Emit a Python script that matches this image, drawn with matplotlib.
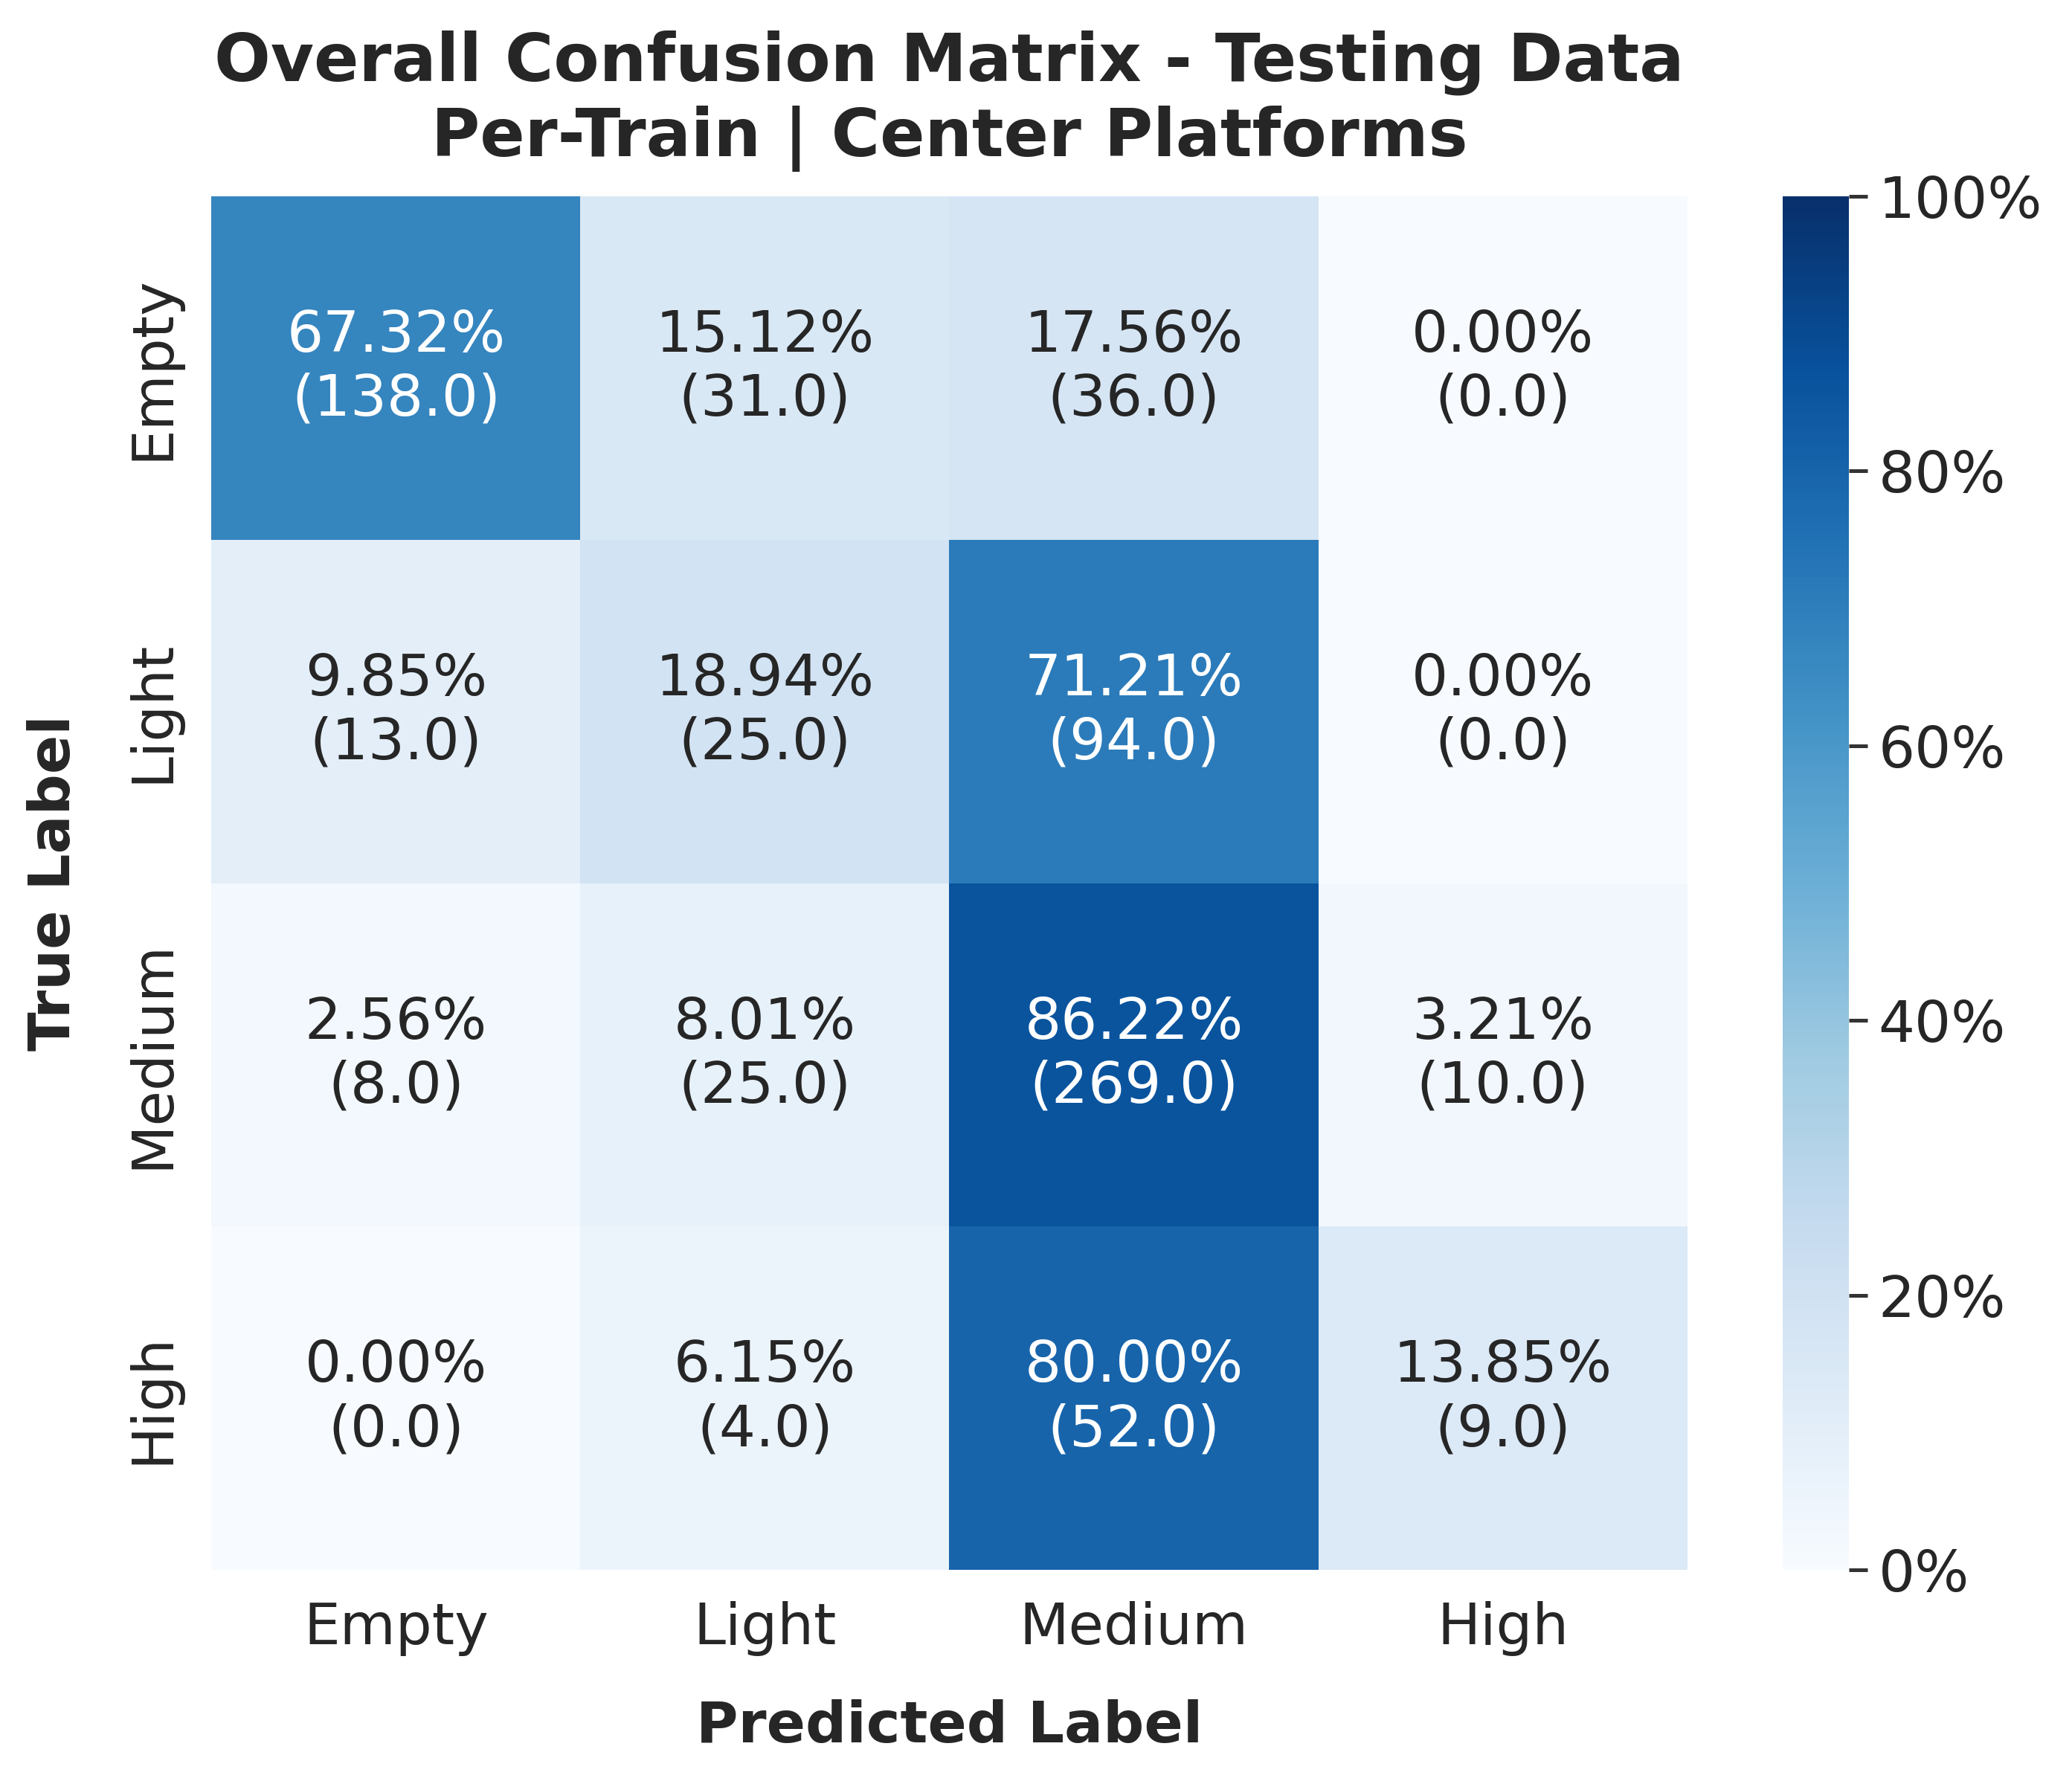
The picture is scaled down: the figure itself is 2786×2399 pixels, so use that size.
import numpy as np
import matplotlib
matplotlib.use("Agg")
import matplotlib.pyplot as plt
import matplotlib.ticker as mticker
import seaborn as sns

classes = ["Empty", "Light", "Medium", "High"]
counts = np.array([
    [138, 31, 36, 0],
    [13, 25, 94, 0],
    [8, 25, 269, 10],
    [0, 4, 52, 9],
], dtype=float)
percents = counts / counts.sum(axis=1, keepdims=True) * 100

labels = [[f"{p:.2f}%\n({c:.1f})" for p, c in zip(prow, crow)]
          for prow, crow in zip(percents, counts)]

sns.set_theme(style="white")
plt.rcParams["font.family"] = ["DejaVu Sans"]

fig = plt.figure(figsize=(2787 / 300, 2399 / 300), dpi=300)
ax = fig.add_axes([0.102, 0.12, 0.712, 0.77])
cax = fig.add_axes([0.86, 0.12, 0.032, 0.77])

sns.heatmap(percents, annot=np.array(labels), fmt="", cmap="Blues",
            vmin=0, vmax=100, ax=ax, cbar_ax=cax,
            annot_kws={"fontsize": 18.5},
            xticklabels=classes, yticklabels=classes)

ax.tick_params(axis="both", labelsize=18.5, length=0, pad=10)
ax.set_xlabel("Predicted Label", fontsize=18.5, fontweight="bold", labelpad=14)
ax.set_ylabel("True Label", fontsize=18.5, fontweight="bold", labelpad=14)
ax.set_title("Overall Confusion Matrix - Testing Data\nPer-Train | Center Platforms",
             fontsize=21.4, fontweight="bold", pad=13)

cax.yaxis.set_major_formatter(mticker.FuncFormatter(lambda v, _: f"{v:.0f}%"))
cax.tick_params(labelsize=18.5, length=6, width=1.2, right=True, color="#333333")
for s in cax.spines.values():
    s.set_visible(False)

fig.savefig("out.png", dpi=300)
